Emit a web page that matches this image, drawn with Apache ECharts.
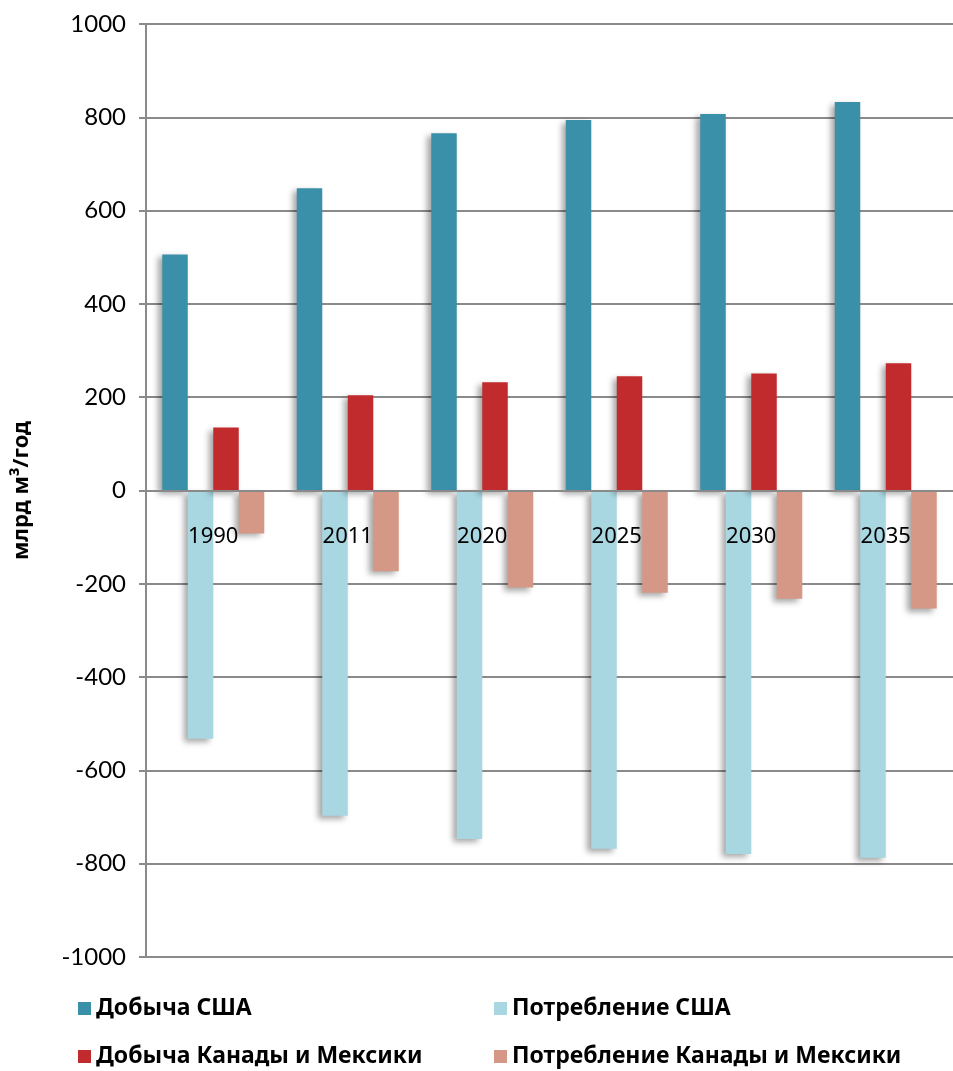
<!DOCTYPE html>
<html>
<head>
<meta charset="utf-8">
<script src="https://cdn.jsdelivr.net/npm/echarts@6/dist/echarts.min.js"></script>
<style>
  html, body { margin: 0; padding: 0; background: #fff; }
  #chart { width: 953px; height: 1071px; }
</style>
</head>
<body>
<div id="chart"></div>
<script>
const years = ['1990', '2011', '2020', '2025', '2030', '2035'];
const usProduction = [506, 648, 766, 794, 807, 833];
const usConsumption = [-532, -697, -747, -768, -779, -787];
const canMexProduction = [135, 204, 232, 245, 251, 273];
const canMexConsumption = [-92, -173, -208, -219, -232, -253];

const chart = echarts.init(document.getElementById('chart'));

const gridGray = '#8a8a8a';
const gridTop = 24;
const gridBottom = 114;
const plotHeight = 1071 - gridTop - gridBottom;

const shadow = {
  shadowBlur: 6,
  shadowColor: 'rgba(0, 0, 0, 0.35)',
  shadowOffsetX: -4,
  shadowOffsetY: 3,
};

function barSeries(name, data, color) {
  return {
    name,
    type: 'bar',
    data,
    barWidth: 25.5,
    barGap: '0%',
    itemStyle: { color, ...shadow },
  };
}

const legendText = {
  fontFamily: '"Liberation Sans Narrow", "Noto Sans", sans-serif',
  fontWeight: 'bold',
  fontSize: 23,
  color: '#000',
};

// one legend per item so the 2x2 block sits exactly like the original
function legendItem(name, left, top) {
  return {
    left,
    top,
    padding: 0,
    itemWidth: 13,
    itemHeight: 13,
    itemGap: 0,
    icon: 'rect',
    textStyle: legendText,
    data: [name],
  };
}

chart.setOption({
  backgroundColor: '#fff',
  animation: false,
  grid: { left: 146, right: -10, top: gridTop, bottom: gridBottom },
  legend: [
    legendItem('Добыча США', 78, 997),
    legendItem('Потребление США', 494, 997),
    legendItem('Добыча Канады и Мексики', 78, 1045),
    legendItem('Потребление Канады и Мексики', 494, 1045),
  ],
  xAxis: {
    type: 'category',
    data: years,
    z: 10,
    // category axis sits on the zero line (y range is symmetric)
    offset: -plotHeight / 2,
    axisLine: { onZero: false, lineStyle: { color: gridGray, width: 2 } },
    axisTick: { alignWithLabel: false, length: 6, lineStyle: { color: gridGray, width: 2 } },
    axisLabel: {
      margin: 35,
      fontSize: 22,
      fontFamily: '"Noto Sans", sans-serif',
      color: '#000',
    },
  },
  yAxis: {
    type: 'value',
    min: -1000,
    max: 1000,
    interval: 200,
    name: 'млрд м³/год',
    nameLocation: 'middle',
    nameGap: 113,
    nameRotate: 90,
    nameTextStyle: {
      fontFamily: '"Noto Sans", sans-serif',
      fontWeight: 'bold',
      fontSize: 22,
      color: '#000',
    },
    axisLine: { show: true, lineStyle: { color: gridGray, width: 2 } },
    axisTick: { show: true, length: 7, lineStyle: { color: gridGray, width: 2 } },
    axisLabel: {
      margin: 20,
      fontSize: 24,
      fontFamily: 'Lato, "Noto Sans", sans-serif',
      color: '#000',
      formatter: (value) => String(value),
    },
    splitLine: { lineStyle: { color: gridGray, width: 2 } },
  },
  series: [
    barSeries('Добыча США', usProduction, '#3990a8'),
    barSeries('Потребление США', usConsumption, '#a8d7e2'),
    barSeries('Добыча Канады и Мексики', canMexProduction, '#c22b2e'),
    barSeries('Потребление Канады и Мексики', canMexConsumption, '#d69886'),
  ],
});
</script>
</body>
</html>
